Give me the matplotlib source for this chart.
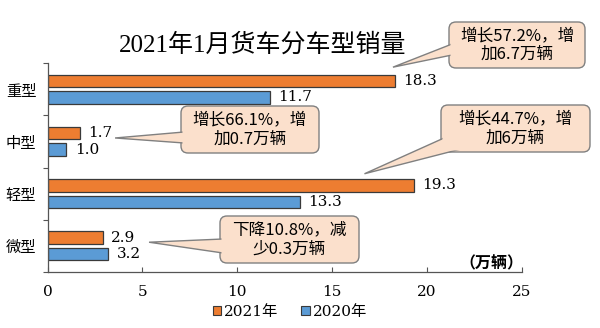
import matplotlib as mpl
import matplotlib.pyplot as plt
from matplotlib.patches import FancyBboxPatch, Polygon, Patch
from matplotlib.transforms import IdentityTransform
import numpy as np

plt.rcParams['font.family'] = ['Noto Sans CJK SC', 'DejaVu Sans']

types = ['重型', '中型', '轻型', '微型']
sales_2021 = [18.3, 1.7, 19.3, 2.9]
sales_2020 = [11.7, 1.0, 13.3, 3.2]
notes = ['增长57.2%，增\n加6.7万辆', '增长66.1%，增\n加0.7万辆',
         '增长44.7%，增\n加6万辆', '下降10.8%，减\n少0.3万辆']
xticks = [0, 5, 10, 15, 20, 25]

c21 = '#ED7D31'
c20 = '#5B9BD5'
peach = '#FBE0CC'
serif_cjk = ['DejaVu Serif', 'Noto Sans CJK SC']

W, H = 600, 328
fig = plt.figure(figsize=(W/100, H/100), dpi=100)
ax = plt.axes((47.5/W, 1-272/H, 474.5/W, 209/H))

y = np.arange(len(types))
bh = 0.24
b1 = ax.barh(y-0.158, sales_2021, height=bh, color=c21, edgecolor='#3a3a3a', lw=0.9, label='2021年')
b2 = ax.barh(y+0.158, sales_2020, height=bh, color=c20, edgecolor='#3a3a3a', lw=0.9, label='2020年')
ax.bar_label(b1, fmt='%.1f', padding=6, fontsize=11, family='DejaVu Serif')
ax.bar_label(b2, fmt='%.1f', padding=6, fontsize=11, family='DejaVu Serif')

ax.set_xlim(0, 25)
ax.set_ylim(3.5, -0.5)
ax.set_xticks(xticks)
ax.set_xticklabels([str(t) for t in xticks], family='DejaVu Serif', fontsize=11)
ax.tick_params(axis='x', direction='in', length=3.5, width=0.8, pad=9, color='#555555')
ax.set_yticks(y)
ax.set_yticklabels(types, fontsize=11)
ax.set_yticks(np.arange(-0.5, 4, 1), minor=True)
ax.tick_params(axis='y', which='major', length=0, pad=8)
ax.tick_params(axis='y', which='minor', length=3.5, width=0.8, color='#555555')
for s in ['top', 'right']:
    ax.spines[s].set_visible(False)
for s in ['left', 'bottom']:
    ax.spines[s].set_color('#555555')
    ax.spines[s].set_linewidth(0.9)

ax.text(0.935, 0.043, '（万辆）', transform=ax.transAxes, ha='center', va='center',
        fontsize=11.5, fontweight='bold')

fig.text(263/W, 1-45/H, '2021年1月货车分车型销量', ha='center', va='center',
         fontsize=18, family=['Liberation Serif', 'Noto Sans CJK SC'])

# callouts: box (left, top, right, bottom) in px, tail base in px, tip in data units
boxes = [(449, 22, 585, 68), (181, 106, 319, 153), (441, 105, 590, 152), (220, 216, 359, 263)]
bases = [((449, 47), (449, 58)), ((181, 135), (181, 146)),
         ((441, 141), (458, 152)), ((220, 242), (220, 256))]
tips = [(18.2, -0.42), (3.56, 0.935), (16.7, 1.62), (5.35, 2.93)]

idt = IdentityTransform()
for (x0, y0, x1, y1), base, tip, note in zip(boxes, bases, tips, notes):
    w, h = x1-x0, y1-y0
    cx, cy = (x0+x1)/2, (y0+y1)/2
    box = FancyBboxPatch((x0, H-y1), w, h, boxstyle='round,pad=0,rounding_size=7',
                         fc=peach, ec='#808080', lw=1, transform=idt, zorder=5)
    fig.patches.append(box)
    tx, ty = ax.transData.transform(tip)
    pts = []
    for bx, by in base:
        bx = bx + 3*np.sign(cx-bx)
        by = by + 3*np.sign(cy-by)
        pts.append((bx, H-by))
    tail = Polygon([pts[0], (tx, ty), pts[1]], closed=True, fc=peach, ec='#808080',
                   lw=1, transform=idt, zorder=6)
    fig.patches.append(tail)
    cover = FancyBboxPatch((x0+1.5, H-y1+1.5), w-3, h-3, boxstyle='round,pad=0,rounding_size=6',
                           fc=peach, ec='none', lw=0, transform=idt, zorder=7)
    fig.patches.append(cover)
    fig.text(cx/W, 1-cy/H, note, ha='center', va='center', fontsize=12,
             linespacing=1.15, multialignment='center', zorder=8)

handles = [Patch(fc=c21, ec='#3a3a3a', lw=0.8), Patch(fc=c20, ec='#3a3a3a', lw=0.8)]
fig.legend(handles, ['2021年', '2020年'], loc='center', bbox_to_anchor=(290/W, 1-312/H),
           ncol=2, frameon=False, handlelength=0.55, handleheight=0.55, handletextpad=0.2,
           columnspacing=1.5, prop={'family': serif_cjk, 'size': 11})

fig.savefig('out.png', dpi=100)
